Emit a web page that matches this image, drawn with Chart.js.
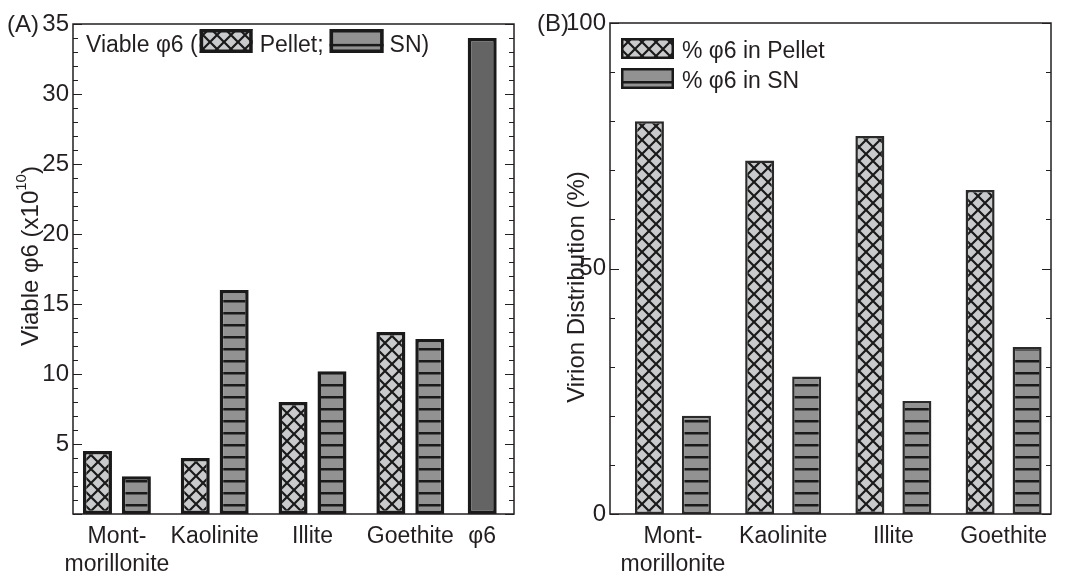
<!DOCTYPE html>
<html>
<head>
<meta charset="utf-8">
<script src="https://cdn.jsdelivr.net/npm/chart.js@4/dist/chart.umd.min.js"></script>
<style>
  body { margin: 0; background: #fff; width: 1071px; height: 577px; overflow: hidden; position: relative; }
  canvas { position: absolute; top: 0; }
  #graficaA { left: 0; }
  #graficaB { left: 530px; }
</style>
</head>
<body>
<canvas id="graficaA" width="530" height="577"></canvas>
<canvas id="graficaB" width="541" height="577"></canvas>
<script>
// Datos
const mineralesA = [['Mont-', 'morillonite'], 'Kaolinite', 'Illite', 'Goethite'];
const controlEtiqueta = 'φ6';
const pelletA = [4.5, 4.0, 8.0, 13.0];   // viable phi6 en pellet (x10^10)
const snA = [2.7, 16.0, 10.2, 12.5];     // viable phi6 en sobrenadante
const controlA = [34.0];                 // phi6 solo
const ticksA = [5, 10, 15, 20, 25, 30, 35];

const mineralesB = [['Mont-', 'morillonite'], 'Kaolinite', 'Illite', 'Goethite'];
const pelletB = [80, 72, 77, 66];        // % phi6 en pellet
const snB = [20, 28, 23, 34];            // % phi6 en SN
const ticksB = [0, 50, 100];

const fuente = '"Liberation Sans", Arial, sans-serif';
const tinta = '#231f20';
const tamTexto = 23;

// Patrones de relleno
function patronCruz(tam, fondo) {
  const c = document.createElement('canvas');
  c.width = tam; c.height = tam;
  const g = c.getContext('2d');
  g.fillStyle = fondo;
  g.fillRect(0, 0, tam, tam);
  g.strokeStyle = '#1a1a1a';
  g.lineWidth = 2.2;
  g.beginPath();
  g.moveTo(-1, -1); g.lineTo(tam + 1, tam + 1);
  g.moveTo(tam + 1, -1); g.lineTo(-1, tam + 1);
  g.stroke();
  return g.createPattern(c, 'repeat');
}

function patronRayas(tam, fondo) {
  const c = document.createElement('canvas');
  c.width = tam; c.height = tam;
  const g = c.getContext('2d');
  g.fillStyle = fondo;
  g.fillRect(0, 0, tam, tam);
  g.fillStyle = '#1a1a1a';
  g.fillRect(0, 0, tam, 2.5);
  return g.createPattern(c, 'repeat');
}

const cruz = patronCruz(14, '#c9cacb');
const rayas = patronRayas(12, '#929292');

// Marco con marcas hacia dentro
function pluginMarco(pasoMenor, yMax, etiquetaPanel) {
  return {
    id: 'marco',
    afterDatasetsDraw(chart) {
      const { ctx, chartArea: a } = chart;
      const y = chart.scales.y;
      ctx.save();
      ctx.strokeStyle = tinta;
      ctx.lineWidth = 1.5;
      ctx.strokeRect(a.left, a.top, a.right - a.left, a.bottom - a.top);
      ctx.lineWidth = 1.2;
      for (let v = 0; v <= yMax; v += pasoMenor) {
        const py = Math.round(y.getPixelForValue(v)) + 0.5;
        const mayor = Math.abs(v % (pasoMenor * 5)) < 1e-6;
        const largo = mayor ? 9 : 5;
        ctx.beginPath();
        ctx.moveTo(a.left, py); ctx.lineTo(a.left + largo, py);
        ctx.moveTo(a.right, py); ctx.lineTo(a.right - largo, py);
        ctx.stroke();
      }
      ctx.fillStyle = tinta;
      ctx.font = '24px ' + fuente;
      ctx.textBaseline = 'middle';
      ctx.textAlign = 'left';
      ctx.fillText(etiquetaPanel, 7, y.getPixelForValue(yMax) + 1);
      ctx.restore();
    }
  };
}

function cajaLeyenda(ctx, x, y, w, h, relleno, borde, lineaMedia) {
  ctx.fillStyle = relleno;
  ctx.fillRect(x, y, w, h);
  if (lineaMedia) {
    ctx.fillStyle = '#1a1a1a';
    ctx.fillRect(x, y + h * 0.62, w, 2.5);
  }
  ctx.strokeStyle = '#1a1a1a';
  ctx.lineWidth = borde;
  ctx.strokeRect(x + borde / 2, y + borde / 2, w - borde, h - borde);
}

function tituloVertical(ctx, cx, cy, partes) {
  ctx.save();
  ctx.translate(cx, cy);
  ctx.rotate(-Math.PI / 2);
  ctx.fillStyle = tinta;
  ctx.textBaseline = 'middle';
  ctx.textAlign = 'left';
  let total = 0;
  partes.forEach(p => {
    ctx.font = (p.sup ? '15px ' : '24px ') + fuente;
    total += ctx.measureText(p.t).width;
  });
  let x = -total / 2;
  partes.forEach(p => {
    ctx.font = (p.sup ? '15px ' : '24px ') + fuente;
    ctx.fillText(p.t, x, p.sup ? -9 : 0);
    x += ctx.measureText(p.t).width;
  });
  ctx.restore();
}

const leyendaA = {
  id: 'leyendaA',
  afterDraw(chart) {
    const { ctx, chartArea: a } = chart;
    ctx.save();
    ctx.font = tamTexto + 'px ' + fuente;
    ctx.textBaseline = 'alphabetic';
    ctx.textAlign = 'left';
    const base = a.top + 28;
    let x = a.left + 13;
    const t1 = 'Viable φ6 (';
    ctx.fillStyle = tinta;
    ctx.fillText(t1, x, base);
    x += ctx.measureText(t1).width + 2;
    cajaLeyenda(ctx, x, a.top + 5, 53, 24, cruz, 3.5, false);
    x += 53 + 7;
    ctx.fillStyle = tinta;
    const t2 = 'Pellet;';
    ctx.fillText(t2, x, base);
    x += ctx.measureText(t2).width + 6;
    cajaLeyenda(ctx, x, a.top + 5, 54, 24, '#929292', 3.5, true);
    x += 54 + 6;
    ctx.fillStyle = tinta;
    ctx.fillText('SN)', x, base);
    tituloVertical(ctx, 31, 256, [{ t: 'Viable φ6 (x10' }, { t: '10', sup: true }, { t: ')' }]);
    ctx.restore();
  }
};

const leyendaB = {
  id: 'leyendaB',
  afterDraw(chart) {
    const { ctx, chartArea: a } = chart;
    ctx.save();
    ctx.font = tamTexto + 'px ' + fuente;
    ctx.textBaseline = 'alphabetic';
    ctx.textAlign = 'left';
    cajaLeyenda(ctx, a.left + 11, a.top + 15, 53, 21, cruz, 2.5, false);
    ctx.fillStyle = tinta;
    ctx.fillText('% φ6 in Pellet', a.left + 72, a.top + 35);
    cajaLeyenda(ctx, a.left + 11, a.top + 45, 53, 21, '#929292', 2.5, true);
    ctx.fillStyle = tinta;
    ctx.fillText('% φ6 in SN', a.left + 72, a.top + 65);
    tituloVertical(ctx, 47, 287, [{ t: 'Virion Distribution (%)' }]);
    ctx.restore();
  }
};

function ejeX(posiciones, etiquetas, min, max, alto) {
  return {
    type: 'linear', min: min, max: max, offset: false,
    afterBuildTicks: s => { s.ticks = posiciones.map(v => ({ value: v })); },
    afterFit: s => { s.height = alto; },
    grid: { display: false, drawTicks: false, offset: false },
    border: { display: false },
    ticks: {
      autoSkip: false, maxRotation: 0, minRotation: 0, padding: 9,
      color: tinta, font: { family: fuente, size: tamTexto, lineHeight: 1.2 },
      callback: (v, i) => etiquetas[i]
    }
  };
}

function ejeY(max, marcas, ancho, ocultarCero) {
  return {
    min: 0, max: max,
    afterBuildTicks: s => { s.ticks = marcas.map(v => ({ value: v })); },
    afterFit: s => { s.width = ancho; },
    grid: { display: false, drawTicks: false },
    border: { display: false },
    ticks: {
      padding: 4, color: tinta, font: { family: fuente, size: 24 },
      callback: v => (ocultarCero && v === 0) ? '' : v
    }
  };
}

// Panel A
const posA = mineralesA.map((m, i) => i + 1).concat([mineralesA.length + 0.735]);
new Chart(document.getElementById('graficaA'), {
  type: 'bar',
  data: {
    datasets: [
      { label: 'Pellet', data: pelletA.map((v, i) => ({ x: posA[i], y: v })), backgroundColor: cruz },
      { label: 'SN', data: snA.map((v, i) => ({ x: posA[i], y: v })), backgroundColor: rayas },
      { label: controlEtiqueta, data: controlA.map(v => ({ x: posA[4], y: v })), backgroundColor: '#646464', grouped: false }
    ]
  },
  options: {
    responsive: false, animation: false,
    layout: { padding: { top: 24, right: 16, left: 0, bottom: 0 } },
    datasets: { bar: { categoryPercentage: 1.083, barPercentage: 0.75, maxBarThickness: 29, borderWidth: 3.5, borderColor: '#1a1a1a', borderSkipped: false } },
    plugins: { legend: { display: false }, tooltip: { enabled: false } },
    scales: {
      x: ejeX(posA, mineralesA.concat([controlEtiqueta]), 0.551, 5.06, 63),
      y: ejeY(35, ticksA, 73, true)
    }
  },
  plugins: [pluginMarco(1, 35, '(A)'), leyendaA]
});

// Panel B
const posB = mineralesB.map((m, i) => i + 1);
new Chart(document.getElementById('graficaB'), {
  type: 'bar',
  data: {
    datasets: [
      { label: '% φ6 in Pellet', data: pelletB.map((v, i) => ({ x: posB[i], y: v })), backgroundColor: cruz },
      { label: '% φ6 in SN', data: snB.map((v, i) => ({ x: posB[i], y: v })), backgroundColor: rayas }
    ]
  },
  options: {
    responsive: false, animation: false,
    layout: { padding: { top: 23, right: 20, left: 0, bottom: 0 } },
    datasets: { bar: { categoryPercentage: 0.853, barPercentage: 0.62, maxBarThickness: 29, borderWidth: 2.5, borderColor: '#2a2a2a', borderSkipped: false } },
    plugins: { legend: { display: false }, tooltip: { enabled: false } },
    scales: {
      x: ejeX(posB, mineralesB, 0.429, 4.43, 63),
      y: ejeY(100, ticksB, 80, false)
    }
  },
  plugins: [pluginMarco(10, 100, '(B)'), leyendaB]
});
</script>
</body>
</html>
